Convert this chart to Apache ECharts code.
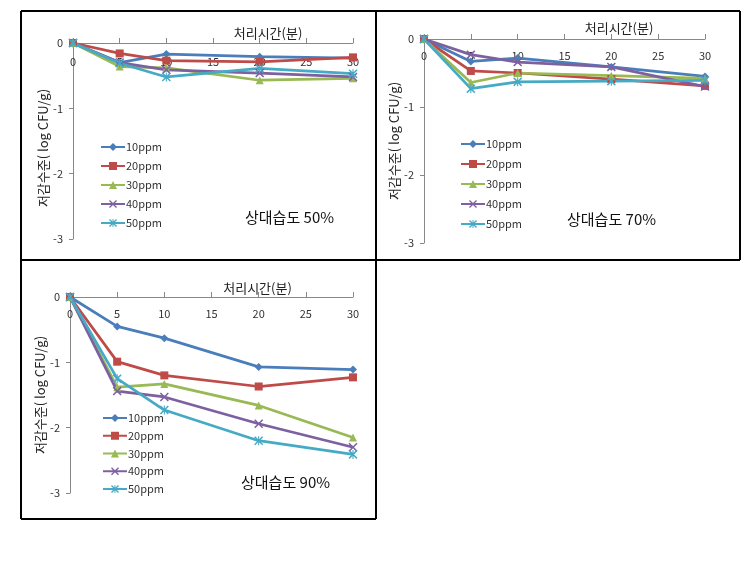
<!DOCTYPE html>
<html>
<head>
<meta charset="utf-8">
<script src="https://cdn.jsdelivr.net/npm/echarts@6/dist/echarts.min.js"></script>
<style>
html,body{margin:0;padding:0;background:#fff;}
#chart{width:750px;height:572px;}
</style>
</head>
<body>
<div id="chart"></div>
<script>
// ---- data ----
const xTimes = [0, 5, 10, 20, 30];
const xTicks = [0, 5, 10, 15, 20, 25, 30];
const yTicks = [0, -1, -2, -3];
const seriesNames = ['10ppm', '20ppm', '30ppm', '40ppm', '50ppm'];
const panelLabels = ['상대습도 50%', '상대습도 70%', '상대습도 90%'];
const xAxisTitle = '처리시간(분)';
const yAxisTitle = '저감수준( log CFU/g)';

// RH 50%
const rh50_10ppm = [0, -0.30, -0.17, -0.21, -0.23];
const rh50_20ppm = [0, -0.16, -0.27, -0.29, -0.22];
const rh50_30ppm = [0, -0.36, -0.38, -0.57, -0.54];
const rh50_40ppm = [0, -0.30, -0.41, -0.46, -0.52];
const rh50_50ppm = [0, -0.31, -0.52, -0.39, -0.47];
// RH 70%
const rh70_10ppm = [0, -0.33, -0.28, -0.41, -0.55];
const rh70_20ppm = [0, -0.47, -0.50, -0.59, -0.69];
const rh70_30ppm = [0, -0.64, -0.50, -0.54, -0.58];
const rh70_40ppm = [0, -0.23, -0.34, -0.41, -0.70];
const rh70_50ppm = [0, -0.73, -0.63, -0.62, -0.61];
// RH 90%
const rh90_10ppm = [0, -0.45, -0.63, -1.07, -1.11];
const rh90_20ppm = [0, -0.99, -1.20, -1.37, -1.23];
const rh90_30ppm = [0, -1.38, -1.33, -1.66, -2.15];
const rh90_40ppm = [0, -1.44, -1.53, -1.94, -2.30];
const rh90_50ppm = [0, -1.25, -1.73, -2.20, -2.41];

const panelData = [
  [rh50_10ppm, rh50_20ppm, rh50_30ppm, rh50_40ppm, rh50_50ppm],
  [rh70_10ppm, rh70_20ppm, rh70_30ppm, rh70_40ppm, rh70_50ppm],
  [rh90_10ppm, rh90_20ppm, rh90_30ppm, rh90_40ppm, rh90_50ppm]
];

// ---- styles ----
const colors = ['#4A7EBB', '#BE4B48', '#98B954', '#7D60A0', '#46AAC5'];
const xPath = 'path://M0,1.2 L1.2,0 L5,3.8 L8.8,0 L10,1.2 L6.2,5 L10,8.8 L8.8,10 L5,6.2 L1.2,10 L0,8.8 L3.8,5 Z';
const starPath = 'path://M0,1.2 L1.2,0 L5,3.8 L8.8,0 L10,1.2 L6.2,5 L10,8.8 L8.8,10 L5,6.2 L1.2,10 L0,8.8 L3.8,5 Z M4.4,0 L5.6,0 L5.6,10 L4.4,10 Z';
const symbols = ['diamond', 'rect', 'triangle', xPath, starPath];
const symbolSizes = [8, 8, 8, 9, 9];
const FONT = '"Noto Sans CJK KR", "Noto Sans", sans-serif';

const grids = [
  {left: 73, top: 43, width: 280, height: 196},
  {left: 424, top: 39, width: 281, height: 204},
  {left: 70, top: 297, width: 283, height: 196}
];
const xNamePad = [110, 109, 92];
const xNameGap = [3, 4, 2];
const xLabelMargin = [13, 11, 11];
const yNameGap = [22, 20, 20];
const legendPos = [
  {left: 95, top: 136.5, itemGap: 8},
  {left: 455, top: 133.5, itemGap: 9},
  {left: 97, top: 407.5, itemGap: 6.75}
];
const labelPos = [
  {x: 245, y: 220},
  {x: 567, y: 222},
  {x: 241, y: 485}
];

const option = {
  animation: false,
  backgroundColor: '#fff',
  color: colors,
  grid: grids.map(g => Object.assign({containLabel: false}, g)),
  xAxis: grids.map((g, i) => ({
    type: 'value', gridIndex: i, position: 'top',
    min: 0, max: 30, interval: 5,
    name: xAxisTitle, nameLocation: 'middle', nameGap: xNameGap[i],
    nameTextStyle: {fontFamily: FONT, fontSize: 13, color: '#222', padding: [0, 0, 0, xNamePad[i]]},
    axisLine: {show: true, onZero: false, lineStyle: {color: '#888', width: 1}},
    axisTick: {show: true, inside: false, length: 5, lineStyle: {color: '#888'}},
    axisLabel: {inside: true, margin: xLabelMargin[i], fontFamily: FONT, fontSize: 11, color: '#333',
      formatter: v => xTicks.includes(v) ? String(v) : ''},
    splitLine: {show: false}
  })),
  yAxis: grids.map((g, i) => ({
    type: 'value', gridIndex: i,
    min: -3, max: 0, interval: 1,
    name: yAxisTitle, nameLocation: 'middle', nameGap: yNameGap[i],
    nameTextStyle: {fontFamily: FONT, fontSize: 13, color: '#222', padding: i === 0 ? [0, 14, 0, 0] : 0},
    axisLine: {show: true, onZero: false, lineStyle: {color: '#888', width: 1}},
    axisTick: {show: true, inside: false, length: 4, lineStyle: {color: '#888'}},
    axisLabel: {margin: 10, fontFamily: FONT, fontSize: 11, color: '#333',
      formatter: v => yTicks.includes(v) ? String(v) : ''},
    splitLine: {show: false}
  })),
  legend: legendPos.map((p, i) => ({
    orient: 'vertical', left: p.left, top: p.top, itemGap: p.itemGap,
    itemWidth: 24, itemHeight: 10,
    textStyle: {fontFamily: FONT, fontSize: 11, color: '#333', padding: [0, 0, 0, -4]},
    data: seriesNames.map(n => ({name: n})),
    selectedMode: false
  })),
  series: [],
  graphic: []
};

panelData.forEach((panel, pi) => {
  panel.forEach((vals, si) => {
    option.series.push({
      type: 'line', name: seriesNames[si],
      xAxisIndex: pi, yAxisIndex: pi,
      data: xTimes.map((t, k) => [t, vals[k]]),
      symbol: symbols[si], symbolSize: symbolSizes[si],
      showAllSymbol: true,
      lineStyle: {width: 2.75, color: colors[si]},
      itemStyle: {color: colors[si]},
      emphasis: {disabled: true}
    });
  });
});

// annotation texts
labelPos.forEach((p, i) => {
  option.graphic.push({
    type: 'text', left: p.x, top: p.y - 10,
    style: {text: panelLabels[i], fontFamily: FONT, fontSize: 15, fill: '#111'}
  });
});

// table borders
const borderLines = [
  [21, 11, 740, 11],
  [21, 260, 740, 260],
  [21, 519, 376, 519],
  [21, 11, 21, 519],
  [376, 11, 376, 519],
  [740, 11, 740, 260]
];
borderLines.forEach(l => {
  option.graphic.push({
    type: 'line', silent: true,
    shape: {x1: l[0], y1: l[1], x2: l[2], y2: l[3]},
    style: {stroke: '#000', lineWidth: 2}
  });
});

const chart = echarts.init(document.getElementById('chart'), null, {renderer: 'canvas'});
chart.setOption(option);
</script>
</body>
</html>
